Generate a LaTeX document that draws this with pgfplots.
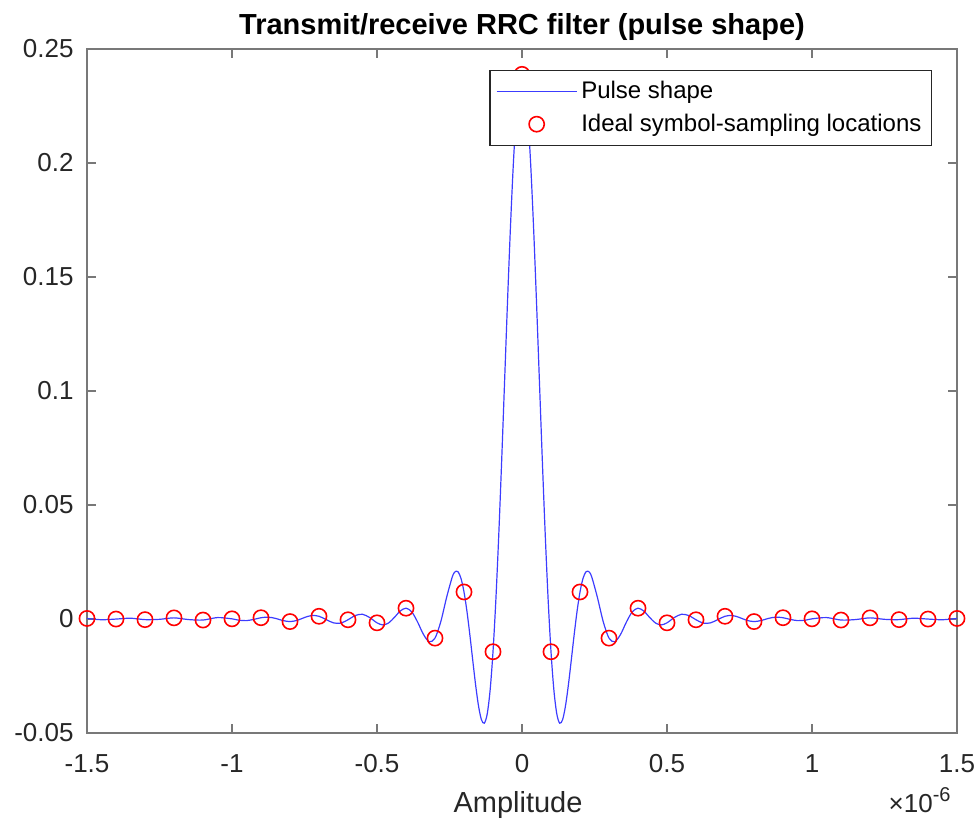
\documentclass[border=0pt]{standalone}
\usepackage{fontspec}
\setmainfont{Liberation Sans}
\usepackage{pgfplots}
\pgfplotsset{compat=1.18}
\usepackage{pgfplotstable}

\pgfplotstableread{
x y
-1.50 0.000240
-1.45 -0.000323
-1.40 -0.000026
-1.35 0.000352
-1.30 -0.000277
-1.25 -0.000142
-1.20 0.000498
-1.15 -0.000251
-1.10 -0.000458
-1.05 0.000626
-1.00 0.000072
-0.975 -0.000565
-0.95 -0.000705
-0.925 -0.000182
-0.90 0.000559
-0.875 0.000818
-0.85 0.000274
-0.825 -0.000661
-0.80 -0.001130
-0.775 -0.000583
-0.75 0.000652
-0.725 0.001541
-0.70 0.001198
-0.675 -0.000265
-0.65 -0.001696
-0.625 -0.001804
-0.60 -0.000339
-0.575 0.001525
-0.55 0.002079
-0.525 0.000622
-0.50 -0.001678
-0.48 -0.002590
-0.46 -0.001738
-0.44 0.000713
-0.42 0.003487
-0.40 0.004745
-0.38 0.003112
-0.36 -0.001337
-0.34 -0.006724
-0.32 -0.009992
-0.30 -0.008388
-0.28 -0.001148
-0.26 0.009481
-0.24 0.018615
-0.23 0.020814
-0.22 0.020614
-0.21 0.017652
-0.20 0.011863
-0.19 0.003520
-0.18 -0.006740
-0.17 -0.017948
-0.16 -0.028864
-0.15 -0.038080
-0.14 -0.044142
-0.13 -0.045701
-0.12 -0.041657
-0.11 -0.031290
-0.10 -0.014364
-0.09 0.008803
-0.08 0.037333
-0.07 0.069821
-0.06 0.104433
-0.05 0.139039
-0.04 0.171377
-0.03 0.199258
-0.02 0.220723
-0.01 0.234262
0.00 0.238882
0.01 0.234262
0.02 0.220723
0.03 0.199258
0.04 0.171377
0.05 0.139039
0.06 0.104433
0.07 0.069821
0.08 0.037333
0.09 0.008803
0.10 -0.014364
0.11 -0.031290
0.12 -0.041657
0.13 -0.045701
0.14 -0.044142
0.15 -0.038080
0.16 -0.028864
0.17 -0.017948
0.18 -0.006740
0.19 0.003520
0.20 0.011863
0.21 0.017652
0.22 0.020614
0.23 0.020814
0.24 0.018615
0.26 0.009481
0.28 -0.001148
0.30 -0.008388
0.32 -0.009992
0.34 -0.006724
0.36 -0.001337
0.38 0.003112
0.40 0.004745
0.42 0.003487
0.44 0.000713
0.46 -0.001738
0.48 -0.002590
0.50 -0.001678
0.525 0.000622
0.55 0.002079
0.575 0.001525
0.60 -0.000339
0.625 -0.001804
0.65 -0.001696
0.675 -0.000265
0.70 0.001198
0.725 0.001541
0.75 0.000652
0.775 -0.000583
0.80 -0.001130
0.825 -0.000661
0.85 0.000274
0.875 0.000818
0.90 0.000559
0.925 -0.000182
0.95 -0.000705
0.975 -0.000565
1.00 0.000072
1.05 0.000626
1.10 -0.000458
1.15 -0.000251
1.20 0.000498
1.25 -0.000142
1.30 -0.000277
1.35 0.000352
1.40 -0.000026
1.45 -0.000323
1.50 0.000240
}\pulse

\pgfplotstableread{
x y
-1.5 0.000240
-1.4 -0.000026
-1.3 -0.000277
-1.2 0.000498
-1.1 -0.000458
-1.0 0.000072
-0.9 0.000559
-0.8 -0.001130
-0.7 0.001198
-0.6 -0.000339
-0.5 -0.001678
-0.4 0.004745
-0.3 -0.008388
-0.2 0.011863
-0.1 -0.014364
0.0 0.238882
0.1 -0.014364
0.2 0.011863
0.3 -0.008388
0.4 0.004745
0.5 -0.001678
0.6 -0.000339
0.7 0.001198
0.8 -0.001130
0.9 0.000559
1.0 0.000072
1.1 -0.000458
1.2 0.000498
1.3 -0.000277
1.4 -0.000026
1.5 0.000240
}\samples

\definecolor{axgray}{RGB}{120,120,120}
\definecolor{txtgray}{RGB}{38,38,38}
\definecolor{curveblue}{RGB}{60,60,255}

\pgfplotsset{
  lineleg/.style={legend image code/.code={\draw[mark repeat=2,mark phase=2,##1] plot coordinates {(0pt,0pt) (20pt,0pt) (40pt,0pt)};}},
  markleg/.style={legend image code/.code={\draw[mark repeat=2,mark phase=2,##1] plot coordinates {(0pt,0pt) (20pt,0pt) (40pt,0pt)};}},
}

\begin{document}
\begin{tikzpicture}
\useasboundingbox (-43.5pt,-43pt) rectangle (445.5pt,366.5pt);
\begin{axis}[
  at={(0,0)}, anchor=south west,
  scale only axis, width=435pt, height=342pt,
  xmin=-1.5, xmax=1.5, ymin=-0.05, ymax=0.25,
  xtick={-1.5,-1,-0.5,0,0.5,1,1.5},
  xticklabels={-1.5,-1,-0.5,0,0.5,1,1.5},
  ytick={-0.05,0,0.05,0.1,0.15,0.2,0.25},
  yticklabels={-0.05,0,0.05,0.1,0.15,0.2,0.25},
  scaled ticks=false,
  tick align=inside,
  major tick length=4.5pt,
  axis line style={draw=axgray, line width=0.8pt},
  tick style={draw=axgray, line width=0.7pt},
  ticklabel style={font=\fontsize{13}{15}\selectfont, text=txtgray},
  xticklabel style={anchor=base, yshift=-19.5pt},
  yticklabel style={anchor=east, inner sep=0pt, xshift=-6.5pt},
  title={Transmit/receive RRC filter (pulse shape)},
  title style={font=\bfseries\fontsize{14.5}{17}\selectfont, at={(axis description cs:0.5,1)}, anchor=base, yshift=1pt},
  xlabel={Amplitude},
  xlabel style={font=\fontsize{14.5}{17}\selectfont, text=txtgray, at={(axis description cs:0.5,0)}, anchor=base, yshift=-39.5pt, xshift=-2pt},
  legend style={at={(axis description cs:0.9713,0.9693)}, anchor=north east,
    draw=txtgray, line width=0.6pt, font=\fontsize{12}{14}\selectfont,
    inner xsep=3pt, inner ysep=3.5pt, row sep=2pt},
  legend cell align=left,
]
\addplot[color=curveblue, line width=0.6pt, smooth, lineleg] table[x=x,y=y] {\pulse};
\addlegendentry{Pulse shape}
\addplot[only marks, mark=o, color=red, mark size=3.8pt, mark options={line width=0.8pt}, markleg] table[x=x,y=y] {\samples};
\addlegendentry{Ideal symbol-sampling locations}
\end{axis}
\node[anchor=base east, font=\fontsize{13}{15}\selectfont, text=txtgray, inner sep=0pt] at (current axis.south east) [yshift=-39.5pt, xshift=-3pt] {×10\raisebox{5.5pt}{\fontsize{10}{12}\selectfont -6}};
\end{tikzpicture}
\end{document}
